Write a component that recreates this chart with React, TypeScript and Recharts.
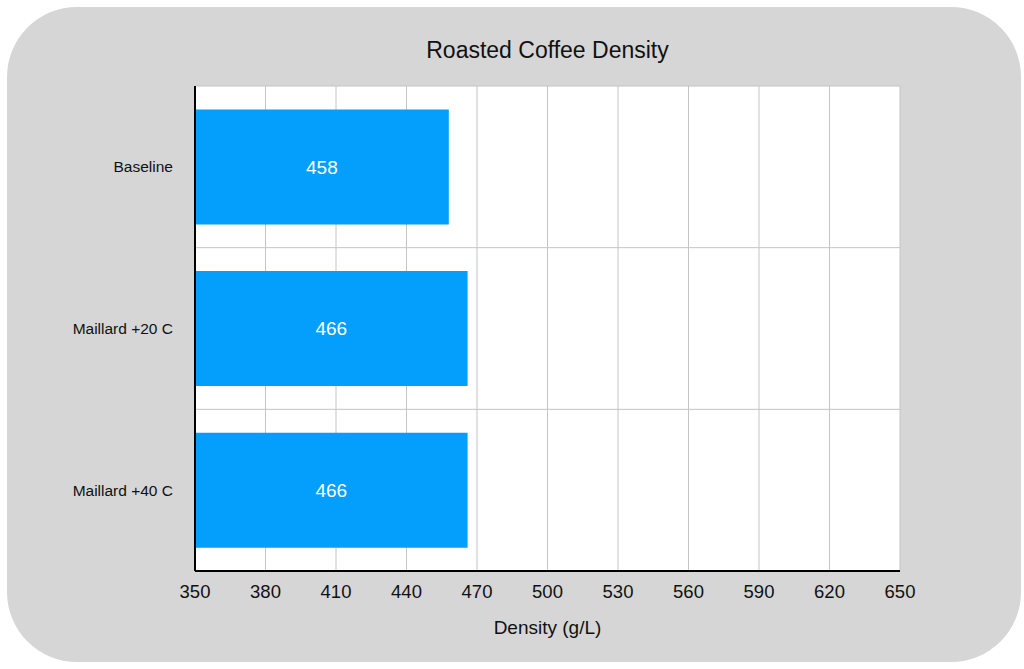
import React from "react";
import { BarChart, Bar, XAxis, YAxis, CartesianGrid, LabelList } from "recharts";

const categories = ["Baseline", "Maillard +20 C", "Maillard +40 C"];
const densities = [458, 466, 466];
const xTicks = [350, 380, 410, 440, 470, 500, 530, 560, 590, 620, 650];

const data = categories.map((name, i) => ({ name, density: densities[i] }));

const FONT = '"Liberation Sans", Arial, Helvetica, sans-serif';

export default function App() {
  return (
    <div
      style={{
        position: "fixed",
        left: 0,
        top: 0,
        width: 1024,
        height: 669,
        background: "#ffffff",
        fontFamily: FONT,
      }}
    >
      <div
        style={{
          position: "absolute",
          left: 7,
          top: 7,
          width: 1014,
          height: 655,
          borderRadius: 70,
          background: "#d6d6d6",
        }}
      />
      <div
        style={{
          position: "absolute",
          left: 195,
          width: 705,
          top: 36,
          textAlign: "center",
          fontSize: 23,
          lineHeight: "28px",
          color: "#111",
        }}
      >
        Roasted Coffee Density
      </div>
      <div style={{ position: "absolute", left: 0, top: 0 }}>
        <BarChart
          width={1024}
          height={669}
          data={data}
          layout="vertical"
          margin={{ top: 86, right: 124, bottom: 32, left: 0 }}
          barCategoryGap="14.5%"
        >
          <CartesianGrid
            fill="#ffffff"
            stroke="#c4c4c4"
            strokeWidth={1}
            horizontalCoordinatesGenerator={({ offset }: any) => [
              offset.top,
              offset.top + offset.height / 3,
              offset.top + (2 * offset.height) / 3,
            ]}
          />
          <XAxis
            type="number"
            domain={[350, 650]}
            ticks={xTicks}
            allowDataOverflow
            height={66}
            tickLine={false}
            tickMargin={8}
            axisLine={{ stroke: "#000", strokeWidth: 2 }}
            tick={{ fill: "#111", fontSize: 18.5, fontFamily: FONT }}
            label={{
              value: "Density (g/L)",
              position: "insideBottom",
              offset: 3,
              fill: "#111",
              fontSize: 19,
              fontFamily: FONT,
            }}
          />
          <YAxis
            type="category"
            dataKey="name"
            width={195}
            tickLine={false}
            tickMargin={16}
            axisLine={{ stroke: "#000", strokeWidth: 2 }}
            tick={{ fill: "#111", fontSize: 15.5, fontFamily: FONT }}
          />
          <Bar dataKey="density" fill="#049efd" isAnimationActive={false}>
            <LabelList
              dataKey="density"
              position="center"
              fill="#ffffff"
              fontSize={19}
              fontFamily={FONT}
            />
          </Bar>
        </BarChart>
      </div>
    </div>
  );
}
